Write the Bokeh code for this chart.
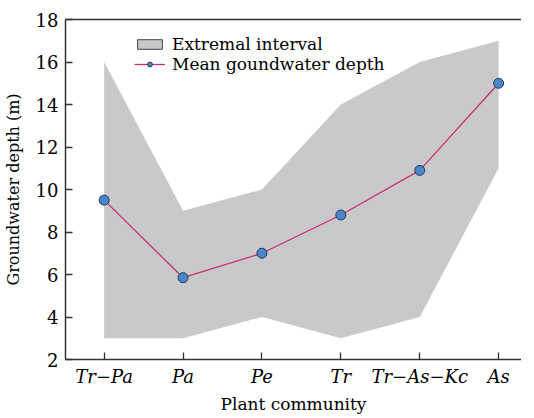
from bokeh.plotting import figure
from bokeh.models import (ColumnDataSource, Legend, LegendItem, LinearAxis,
                          FixedTicker, Range1d)
from bokeh.embed import file_html
from bokeh.resources import INLINE

communities = ["Tr\u2212Pa", "Pa", "Pe", "Tr", "Tr\u2212As\u2212Kc", "As"]
mean_depth = [9.5, 5.85, 7.0, 8.8, 10.9, 15.0]
max_depth = [16.0, 9.0, 10.0, 14.0, 16.0, 17.0]
min_depth = [3.0, 3.0, 4.0, 3.0, 4.0, 11.0]
y_ticks = [2, 4, 6, 8, 10, 12, 14, 16, 18]

xs = list(range(len(communities)))
src = ColumnDataSource(dict(x=xs, mean=mean_depth, hi=max_depth, lo=min_depth))

FONT = "DejaVu Serif"

p = figure(frame_width=456, frame_height=340, output_backend="svg",
           toolbar_location=None,
           x_range=Range1d(-0.49, 5.29), y_range=Range1d(2, 18),
           min_border_left=62, min_border_right=0, min_border_top=19,
           min_border_bottom=0)
p.outline_line_color = None
p.xgrid.visible = False
p.ygrid.visible = False
p.background_fill_color = "white"

area = p.varea(x="x", y1="lo", y2="hi", source=src, fill_color="#c9c9cb")
dummy = p.quad(left=[20], right=[21], top=[-5], bottom=[-6],
               fill_color="#c9c9cb", line_color="#444444", line_width=1)
ln = p.line(x="x", y="mean", source=src, line_color="#c8306a", line_width=1.3)
pts = p.scatter(x="x", y="mean", source=src, size=10, fill_color="#4a86c8",
                line_color="#1f3a5a", line_width=1)

# axes
for ax in (p.xaxis[0], p.yaxis[0]):
    ax.axis_line_color = "#333333"
    ax.axis_line_width = 1.5
    ax.major_tick_line_color = "#333333"
    ax.major_tick_line_width = 1.3
    ax.major_tick_in = 7
    ax.major_tick_out = 0
    ax.minor_tick_line_color = None
    ax.major_label_text_font = FONT
    ax.major_label_text_color = "black"
    ax.axis_label_text_font = FONT
    ax.axis_label_text_font_style = "normal"
    ax.axis_label_text_color = "black"

p.yaxis.ticker = FixedTicker(ticks=y_ticks)
p.yaxis.major_label_text_font_size = "18px"
p.yaxis.major_label_standoff = 7
p.yaxis.axis_label = "Groundwater depth (m)"
p.yaxis.axis_label_text_font_size = "16px"
p.yaxis.axis_label_standoff = 10

p.xaxis.ticker = FixedTicker(ticks=xs)
p.xaxis.major_label_overrides = {i: c for i, c in enumerate(communities)}
p.xaxis.major_label_text_font_size = "18px"
p.xaxis.major_label_text_font_style = "italic"
p.xaxis.major_label_standoff = 6
p.xaxis.axis_label = "Plant community"
p.xaxis.axis_label_text_font_size = "17px"
p.xaxis.axis_label_standoff = 4

top = LinearAxis(axis_line_color="#333333", axis_line_width=1.5,
                 major_tick_line_color=None, minor_tick_line_color=None,
                 major_label_text_font_size="0px", ticker=FixedTicker(ticks=[]))
p.add_layout(top, "above")

legend = Legend(items=[
    LegendItem(label="Extremal interval", renderers=[dummy]),
    LegendItem(label="Mean goundwater depth", renderers=[ln, pts]),
], location=(69, 285))
legend.border_line_color = None
legend.background_fill_alpha = 0
legend.label_text_font = FONT
legend.label_text_font_size = "17px"
legend.label_text_color = "black"
legend.label_height = 17
legend.glyph_height = 12
legend.glyph_width = 31
legend.spacing = -3
legend.padding = 0
legend.margin = 0
legend.label_standoff = 7
p.add_layout(legend)

open("out.html", "w").write(file_html(p, INLINE))
